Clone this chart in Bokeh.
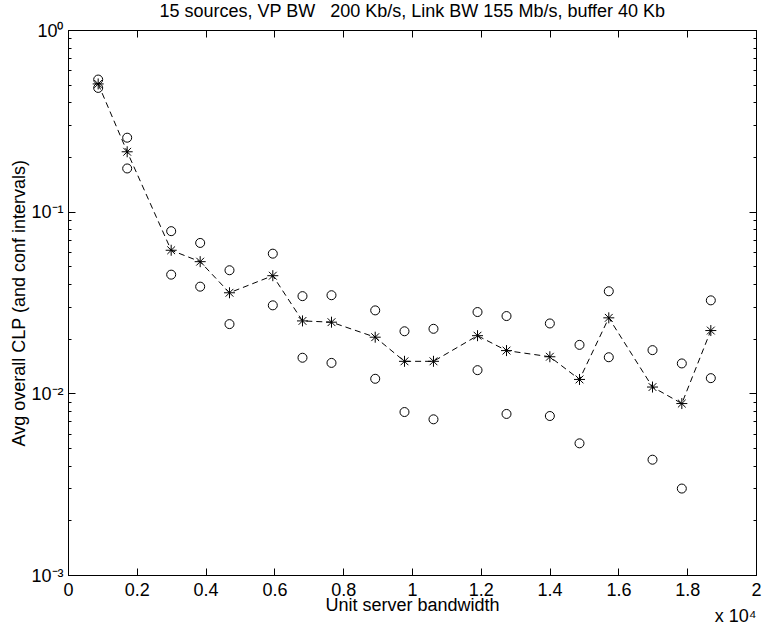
from bokeh.plotting import figure
from bokeh.models import (ColumnDataSource, FixedTicker, CustomJSTickFormatter,
                          LinearAxis, LogAxis, Title, Range1d)
from bokeh.embed import file_html
from bokeh.resources import INLINE

# ---- data ----
bandwidth = [863, 1706, 2985, 3828, 4680, 5939, 6802, 7645, 8916, 9767,
             10610, 11890, 12733, 13993, 14855, 15706, 16977, 17829, 18672]
clp_mean = [0.508, 0.215, 0.0617, 0.0534, 0.0360, 0.0447, 0.0252, 0.0248,
            0.0205, 0.0151, 0.0151, 0.0209, 0.0173, 0.0160, 0.0120, 0.0262,
            0.0109, 0.00884, 0.0223]
clp_upper = [0.537, 0.257, 0.0786, 0.0677, 0.0479, 0.0591, 0.0345, 0.0349,
             0.0288, 0.0221, 0.0228, 0.0282, 0.0268, 0.0244, 0.0186, 0.0367,
             0.0174, 0.0147, 0.0327]
clp_lower = [0.483, 0.174, 0.0453, 0.0389, 0.0242, 0.0307, 0.0158, 0.0148,
             0.0121, 0.00794, 0.00724, 0.0135, 0.00775, 0.00755, 0.00534,
             0.0159, 0.00434, 0.00301, 0.0122]

x_ticks = [0, 2000, 4000, 6000, 8000, 10000, 12000, 14000, 16000, 18000, 20000]
y_ticks = [0.001, 0.01, 0.1, 1.0]
y_minor = [m * 10.0 ** k for k in (-3, -2, -1) for m in range(2, 10)]

# non-breaking spaces keep the wide gap of the original title
title_text = "15 sources, VP BW\u00a0\u00a0\u00a0200 Kb/s, Link BW 155 Mb/s, buffer 40 Kb"
x_label = "Unit server bandwidth"
y_label = "Avg overall CLP (and conf intervals)"
x_mult = "x 10\u2074"

FONT = "Liberation Sans"
FS = "18px"

src = ColumnDataSource(dict(x=bandwidth, m=clp_mean, u=clp_upper, l=clp_lower))

p = figure(width=763, height=625, x_range=Range1d(0, 20000),
           y_range=Range1d(1e-3, 1.0), y_axis_type="log",
           title=title_text,
           output_backend="svg", toolbar_location=None,
           min_border_left=68, min_border_right=7,
           min_border_top=30, min_border_bottom=50)

p.title.align = "center"
p.title.vertical_align = "top"
p.title.standoff = 0
p.title.text_font = FONT
p.title.text_font_size = FS
p.title.text_font_style = "normal"
p.title.text_color = "black"

p.background_fill_color = "white"
p.border_fill_color = "white"
p.outline_line_color = "black"
p.outline_line_width = 1
p.xgrid.visible = False
p.ygrid.visible = False

xt = FixedTicker(ticks=x_ticks, minor_ticks=[])
yt = FixedTicker(ticks=y_ticks, minor_ticks=y_minor)

xfmt = CustomJSTickFormatter(code="return String(Math.round(tick / 1000) / 10);")
yfmt = CustomJSTickFormatter(code="""
const e = Math.round(Math.log10(tick));
const sup = {"0": "\u2070", "1": "\u00b9", "2": "\u00b2", "3": "\u00b3", "-": "\u207b"};
return "10" + String(e).split("").map(c => sup[c]).join("");
""")

def style(ax):
    ax.axis_line_color = "black"
    ax.axis_line_width = 1
    ax.major_tick_in = 7
    ax.major_tick_out = 0
    ax.minor_tick_in = 3
    ax.minor_tick_out = 0
    ax.major_tick_line_color = "black"
    ax.minor_tick_line_color = "black"
    ax.major_label_text_font = FONT
    ax.major_label_text_font_size = FS
    ax.major_label_text_color = "black"
    ax.axis_label_text_font = FONT
    ax.axis_label_text_font_size = FS
    ax.axis_label_text_font_style = "normal"
    ax.axis_label_text_color = "black"

xa = p.xaxis[0]
xa.ticker = xt
xa.formatter = xfmt
style(xa)
xa.major_label_standoff = 7
xa.axis_label = x_label
xa.axis_label_standoff = -4

ya = p.yaxis[0]
ya.ticker = yt
ya.formatter = yfmt
style(ya)
ya.major_label_standoff = 5
ya.axis_label = y_label
ya.axis_label_standoff = -1

# top frame side: inward ticks only; a blank 1px label reserves a small gap
top = LinearAxis(ticker=xt, formatter=CustomJSTickFormatter(code="return '';"))
style(top)
top.major_label_text_font_size = "0px"
top.major_label_standoff = 0
top.axis_label = " "
top.axis_label_text_font_size = "1px"
top.axis_label_standoff = 4
p.add_layout(top, "above")

right = LogAxis(ticker=yt, formatter=CustomJSTickFormatter(code="return '';"))
style(right)
right.major_label_text_font_size = "0px"
right.major_label_standoff = 0
p.add_layout(right, "right")

mult = Title(text=x_mult, align="right", vertical_align="top", standoff=-23,
             text_font=FONT, text_font_size=FS, text_font_style="normal",
             text_color="black")
p.add_layout(mult, "below")

p.line("x", "m", source=src, line_color="black", line_width=1, line_dash="6 4")
p.scatter("x", "u", source=src, marker="circle", size=9, fill_color=None,
          line_color="black", line_width=1)
p.scatter("x", "l", source=src, marker="circle", size=9, fill_color=None,
          line_color="black", line_width=1)
p.scatter("x", "m", source=src, marker="asterisk", size=11,
          line_color="black", line_width=1)

open("out.html", "w").write(file_html(p, INLINE))
